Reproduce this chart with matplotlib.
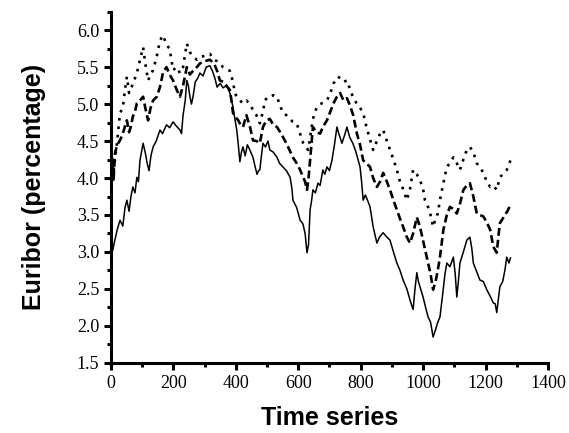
import numpy as np
import matplotlib.pyplot as plt
from matplotlib.ticker import MultipleLocator

# Série inferior (linha cheia)
t_solid = [0, 6, 12, 20, 29, 38, 45, 51, 58, 64, 70, 77, 83, 88, 93, 103, 110, 116, 122, 128,
           135, 145, 157, 165, 178, 188, 199, 210, 221, 226, 231, 238, 243, 248, 253, 258, 263,
           270, 278, 285, 295, 305, 317, 325, 333, 340, 350, 359, 370, 381, 391, 397, 403, 408,
           413, 418, 423, 430, 437, 445, 455, 462, 468, 473, 477, 482, 487, 495, 503, 509, 520,
           532, 540, 551, 562, 574, 580, 583, 595, 606, 615, 622, 628, 633, 638, 643, 647, 655,
           663, 670, 679, 685, 692, 700, 708, 716, 724, 730, 740, 750, 756, 765, 775, 785, 798,
           803, 808, 815, 822, 830, 840, 852, 860, 872, 884, 894, 905, 916, 926, 936, 948, 958,
           968, 974, 980, 985, 990, 1000, 1008, 1016, 1024, 1032, 1040, 1047, 1054, 1062, 1070,
           1076, 1086, 1097, 1103, 1108, 1113, 1118, 1129, 1140, 1150, 1156, 1161, 1170, 1182,
           1193, 1204, 1215, 1225, 1231, 1236, 1241, 1246, 1255, 1262, 1268, 1275, 1280]
v_solid = [2.95, 3.03, 3.15, 3.3, 3.43, 3.35, 3.6, 3.7, 3.55, 3.75, 3.88, 3.8, 4.01, 3.95, 4.24,
           4.47, 4.34, 4.2, 4.1, 4.3, 4.42, 4.5, 4.65, 4.6, 4.72, 4.68, 4.76, 4.7, 4.65, 4.6, 4.85,
           5.05, 5.32, 5.25, 5.1, 5.0, 5.1, 5.3, 5.35, 5.42, 5.38, 5.5, 5.52, 5.45, 5.35, 5.23,
           5.28, 5.22, 5.25, 5.15, 4.96, 4.8, 4.65, 4.45, 4.22, 4.35, 4.42, 4.3, 4.45, 4.38, 4.28,
           4.15, 4.05, 4.1, 4.11, 4.3, 4.47, 4.42, 4.5, 4.38, 4.35, 4.28, 4.2, 4.15, 4.1, 4.01,
           3.85, 3.7, 3.6, 3.43, 3.38, 3.25, 2.99, 3.1, 3.57, 3.7, 3.84, 3.8, 3.93, 3.9, 4.11,
           4.05, 4.15, 4.1, 4.24, 4.45, 4.69, 4.6, 4.47, 4.6, 4.69, 4.55, 4.47, 4.35, 4.15, 3.95,
           3.7, 3.77, 3.7, 3.61, 3.34, 3.12, 3.2, 3.26, 3.2, 3.16, 3.0, 2.85, 2.75, 2.62, 2.5,
           2.35, 2.22, 2.5, 2.72, 2.6, 2.53, 2.39, 2.25, 2.12, 2.05, 1.85, 1.95, 2.05, 2.12, 2.4,
           2.7, 2.85, 2.8, 2.93, 2.7, 2.39, 2.6, 2.85, 3.0, 3.16, 3.2, 3.05, 2.85, 2.75, 2.62,
           2.6, 2.49, 2.4, 2.31, 2.3, 2.18, 2.35, 2.53, 2.6, 2.75, 2.93, 2.85, 2.92]

# Série intermediária (tracejada)
t_dash = [0, 4, 8, 13, 20, 29, 38, 45, 51, 58, 64, 70, 77, 83, 93, 103, 110, 119, 127, 135, 147,
          157, 167, 178, 188, 199, 211, 221, 231, 243, 253, 263, 275, 285, 300, 317, 330, 340,
          349, 360, 370, 381, 386, 391, 400, 408, 415, 423, 434, 445, 455, 466, 477, 487, 498,
          509, 520, 532, 545, 562, 572, 583, 595, 606, 616, 622, 628, 633, 638, 643, 647, 658,
          670, 680, 692, 703, 713, 724, 734, 745, 756, 766, 776, 788, 798, 808, 818, 830, 840,
          852, 862, 872, 884, 894, 905, 916, 926, 936, 948, 958, 968, 980, 990, 1000, 1006, 1016,
          1024, 1032, 1040, 1047, 1054, 1065, 1076, 1086, 1097, 1108, 1118, 1129, 1140, 1150,
          1161, 1172, 1182, 1193, 1204, 1215, 1225, 1236, 1241, 1246, 1255, 1262, 1270, 1280]
v_dash = [3.85, 4.2, 3.95, 4.34, 4.45, 4.51, 4.6, 4.7, 4.78, 4.62, 4.7, 4.83, 4.9, 5.01, 5.05,
          5.1, 4.95, 4.78, 4.95, 5.05, 5.1, 5.23, 5.43, 5.5, 5.4, 5.32, 5.19, 5.1, 5.25, 5.5, 5.4,
          5.45, 5.5, 5.55, 5.58, 5.6, 5.55, 5.45, 5.32, 5.3, 5.25, 5.19, 5.05, 4.88, 4.82, 4.78,
          4.72, 4.69, 4.85, 4.7, 4.51, 4.5, 4.47, 4.69, 4.78, 4.8, 4.72, 4.69, 4.6, 4.47, 4.38,
          4.28, 4.2, 4.11, 4.01, 3.95, 3.84, 4.0, 4.24, 4.5, 4.69, 4.62, 4.6, 4.7, 4.78, 4.9,
          5.01, 5.1, 5.15, 5.05, 5.08, 4.98, 4.85, 4.6, 4.45, 4.24, 4.2, 4.15, 4.0, 3.88, 3.95,
          4.07, 3.95, 3.84, 3.7, 3.57, 3.45, 3.34, 3.2, 3.12, 3.25, 3.47, 3.34, 3.15, 3.03, 2.85,
          2.7, 2.49, 2.6, 2.75, 2.93, 3.3, 3.5, 3.61, 3.58, 3.52, 3.65, 3.84, 3.9, 3.93, 3.75,
          3.52, 3.5, 3.48, 3.4, 3.3, 3.07, 2.99, 3.2, 3.39, 3.45, 3.5, 3.55, 3.64]

# Série superior (pontilhada)
t_dot = [0, 4, 8, 13, 20, 29, 38, 45, 51, 58, 64, 70, 77, 83, 93, 103, 110, 119, 127, 135, 147,
         157, 167, 178, 188, 199, 211, 221, 231, 243, 253, 263, 275, 285, 300, 317, 330, 340, 349,
         359, 370, 381, 391, 397, 403, 413, 423, 434, 445, 455, 466, 477, 487, 493, 503, 509, 520,
         532, 540, 551, 562, 573, 583, 595, 606, 616, 624, 632, 638, 643, 650, 660, 670, 680, 692,
         703, 713, 720, 727, 735, 745, 756, 766, 775, 788, 798, 808, 818, 828, 840, 852, 862, 872,
         884, 894, 905, 916, 926, 936, 948, 958, 968, 980, 990, 1000, 1006, 1012, 1024, 1032,
         1040, 1047, 1054, 1065, 1076, 1086, 1097, 1108, 1118, 1129, 1140, 1150, 1161, 1172,
         1182, 1193, 1204, 1215, 1225, 1236, 1246, 1255, 1268, 1280]
v_dot = [4.1, 4.3, 4.07, 4.25, 4.5, 4.88, 4.95, 5.2, 5.37, 5.15, 5.2, 5.28, 5.35, 5.42, 5.6, 5.77,
         5.55, 5.32, 5.4, 5.46, 5.65, 5.86, 5.93, 5.8, 5.75, 5.46, 5.5, 5.42, 5.5, 5.82, 5.7, 5.65,
         5.6, 5.64, 5.65, 5.68, 5.6, 5.58, 5.55, 5.5, 5.48, 5.45, 5.3, 5.15, 5.1, 5.05, 5.01, 5.05,
         5.0, 4.92, 4.85, 4.74, 4.9, 5.05, 5.1, 5.1, 5.12, 5.1, 5.0, 4.88, 4.85, 4.8, 4.76, 4.74,
         4.6, 4.47, 4.42, 4.38, 4.55, 4.69, 4.85, 4.96, 5.0, 5.02, 5.05, 5.15, 5.28, 5.32, 5.37,
         5.35, 5.3, 5.32, 5.2, 5.1, 5.0, 4.95, 4.88, 4.7, 4.55, 4.38, 4.5, 4.6, 4.65, 4.5, 4.38,
         4.25, 4.11, 3.95, 3.85, 3.7, 3.85, 4.11, 4.05, 3.97, 3.85, 3.7, 3.66, 3.5, 3.34, 3.45,
         3.52, 3.7, 3.93, 4.15, 4.2, 4.28, 4.2, 4.11, 4.25, 4.38, 4.42, 4.35, 4.2, 4.15, 4.07,
         3.95, 3.88, 3.9, 3.84, 4.01, 4.05, 4.11, 4.24]

fig = plt.figure(figsize=(5.69, 4.33), dpi=100)
ax = fig.add_axes([0.195, 0.162, 0.768, 0.811])

ax.plot(t_solid, v_solid, color="black", lw=1.1, ls="-")
ax.plot(t_dash, v_dash, color="black", lw=1.9, ls=(0, (3, 1.5)))
ax.plot(t_dot, v_dot, color="black", lw=1.9, ls=(0, (1, 2.2)))

ax.set_xlim(0, 1400)
ax.set_ylim(1.5, 6.25)
ax.xaxis.set_major_locator(MultipleLocator(200))
ax.xaxis.set_minor_locator(MultipleLocator(100))
ax.yaxis.set_major_locator(MultipleLocator(0.5))
ax.yaxis.set_minor_locator(MultipleLocator(0.25))
ax.yaxis.set_major_formatter(plt.FormatStrFormatter("%.1f"))

for s in ["top", "right"]:
    ax.spines[s].set_visible(False)
for s in ["left", "bottom"]:
    ax.spines[s].set_linewidth(2.2)

ax.tick_params(which="major", direction="out", length=5, width=2.2)
ax.tick_params(which="minor", direction="out", length=3, width=2.2)
for lab in ax.get_xticklabels() + ax.get_yticklabels():
    lab.set_family("Liberation Serif")
    lab.set_fontsize(13)

ax.set_xlabel("Time series", fontsize=18, fontweight="bold", family="Liberation Sans", labelpad=10)
ax.set_ylabel("Euribor (percentage)", fontsize=18, fontweight="bold", family="Liberation Sans", labelpad=22)

fig.savefig("out.png", dpi=100)
